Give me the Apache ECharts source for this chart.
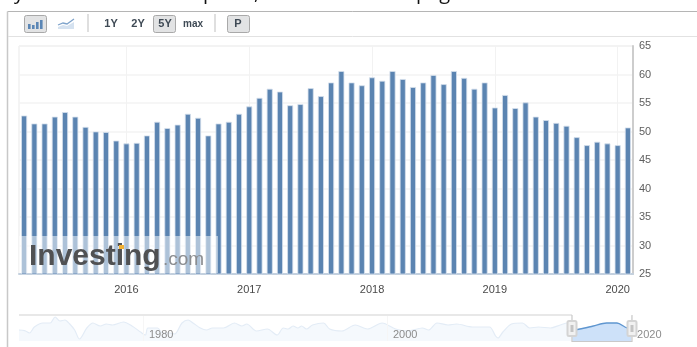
<!DOCTYPE html>
<html>
<head>
<meta charset="utf-8">
<style>html,body{margin:0;padding:0;background:#fff}#chart{width:697px;height:347px}</style>
<script src="https://cdn.jsdelivr.net/npm/echarts@6/dist/echarts.min.js"></script>
</head>
<body>
<div id="chart"></div>
<script>
// Monthly readings shown in the main bar panel
const months = [
  '2015-03','2015-04','2015-05','2015-06','2015-07','2015-08','2015-09','2015-10','2015-11','2015-12',
  '2016-01','2016-02','2016-03','2016-04','2016-05','2016-06','2016-07','2016-08','2016-09','2016-10','2016-11','2016-12',
  '2017-01','2017-02','2017-03','2017-04','2017-05','2017-06','2017-07','2017-08','2017-09','2017-10','2017-11','2017-12',
  '2018-01','2018-02','2018-03','2018-04','2018-05','2018-06','2018-07','2018-08','2018-09','2018-10','2018-11','2018-12',
  '2019-01','2019-02','2019-03','2019-04','2019-05','2019-06','2019-07','2019-08','2019-09','2019-10','2019-11','2019-12',
  '2020-01','2020-02'
];
const readings = [
  52.8,51.4,51.4,52.6,53.4,52.6,50.8,50.0,49.9,48.4,
  47.9,48.0,49.3,51.7,50.6,51.2,53.1,52.4,49.3,51.4,51.7,53.1,
  54.4,55.9,57.5,57.0,54.6,54.8,57.6,56.2,58.6,60.6,58.6,58.1,
  59.5,58.9,60.6,59.2,57.8,58.6,59.9,58.3,60.6,59.4,57.5,58.6,
  54.2,56.4,54.1,55.1,52.6,52.0,51.5,51.0,49.0,47.6,48.2,47.9,
  47.6,50.7
];

// Long-range history behind the navigator strip
const navYears = [
  1969.84,1970.3,1970.7,1971.1,1971.8,1972.4,1972.8,1973.2,1973.6,1974.0,1974.4,1974.8,
  1975.4,1975.9,1976.5,1977.0,1977.5,1978.4,1979.1,1979.8,1980.2,1980.4,1981.2,1981.6,
  1982.2,1982.6,1983.2,1983.7,1984.1,1984.7,1985.2,1985.7,1986.6,1987.5,1988.1,1988.5,
  1989.3,1990.2,1991.0,1991.5,1991.9,1992.3,1992.7,1993.0,1993.4,1993.9,1994.8,1995.3,
  1996.3,1997.4,1998.4,1999.6,2000.7,2001.7,2002.9,2003.4,2004.1,2005.0,2005.7,2007.0,
  2008.4,2008.9,2009.1,2009.5,2010.2,2011.1,2011.7,2012.4,2013.4,2014.2,2014.8,2015.2,
  2015.5,2015.8,2016.9,2018.0,2018.85,2019.7,2020.08
];
const navValues = [
  47.1,45.8,41.4,52.9,60.6,60.6,72.1,64.4,66.3,58.6,47.1,29.8,
  51.0,60.6,54.8,58.6,56.7,62.5,54.8,43.3,37.5,51.0,51.0,41.4,
  41.4,39.4,60.6,66.3,60.6,51.0,47.1,51.0,51.0,60.6,54.8,58.6,
  45.2,49.0,37.5,51.0,49.0,54.8,51.0,54.8,49.0,56.7,60.6,49.0,
  45.2,56.7,49.0,60.6,49.0,45.2,51.0,47.1,60.6,56.7,58.6,52.9,
  52.9,35.6,31.8,43.3,58.6,60.6,51.0,52.9,51.0,56.7,60.6,52.8,
  48.0,49.0,54.8,60.6,60.6,51.0,50.7
];
const navTicks = [1980, 2000, 2020];
const rangeStart = 2015.2;

const isYearStart = idx => months[idx].endsWith('-01');
const pairs = navYears.map((y, i) => [y, navValues[i]]);
const faded = pairs.filter(p => p[0] <= rangeStart);
const selected = pairs.filter(p => p[0] >= rangeStart);

const FONT = '"Liberation Sans", Arial, sans-serif';
const BTN = '#e2e3e4';

// Toolbar button helper
const button = (x, w, fill) => ({
  type: 'rect', z: 60,
  shape: { x: x + 0.5, y: 15.5, width: w, height: 17, r: 2 },
  style: { fill: fill, stroke: '#a9a9a9', lineWidth: 1 }
});
const label = (x, text, size) => ({
  type: 'text', z: 61, x: x, y: 24,
  style: { text: text, font: 'bold ' + (size || 11) + 'px ' + FONT, fill: '#3f4a55', align: 'center', verticalAlign: 'middle' }
});
const bar = (x, y, h) => ({ type: 'rect', z: 61, shape: { x: x, y: y, width: 2.6, height: h }, style: { fill: '#5b86b5' } });
const handle = x => ({
  type: 'group', z: 70, children: [
    { type: 'rect', z: 70, shape: { x: x, y: 321, width: 9, height: 15, r: 1.5 }, style: { fill: '#f1f1f1', stroke: '#d4d4d4', lineWidth: 2 } },
    { type: 'rect', z: 71, shape: { x: x + 3, y: 325, width: 3, height: 7 }, style: { fill: '#c4c4c4' } }
  ]
});
// Heading line cut off by the page's top edge: only descenders remain on screen
const clipped = (x, text) => ({
  type: 'text', z: 61, x: x, y: 3.5,
  style: { text: text, font: '20px "Open Sans", sans-serif', fill: '#111', align: 'left', verticalAlign: 'bottom' }
});

const chart = echarts.init(document.getElementById('chart'), null, { renderer: 'canvas' });
chart.setOption({
  animation: false,
  backgroundColor: '#fff',
  grid: [
    { left: 19, top: 46, width: 614, height: 228, show: true, borderColor: '#e9e9e9', borderWidth: 1, backgroundColor: 'transparent' },
    { left: 19, top: 316, width: 613, height: 25 }
  ],
  xAxis: [
    {
      type: 'category', gridIndex: 0, data: months, boundaryGap: true,
      axisLine: { show: true, lineStyle: { color: '#c3d0de', width: 2 } },
      axisTick: { show: false },
      axisLabel: {
        interval: isYearStart, margin: 10, color: '#4a4a4a', fontFamily: FONT, fontSize: 11,
        formatter: v => v.slice(0, 4)
      },
      splitLine: { show: true, interval: isYearStart, alignWithLabel: true, lineStyle: { color: '#f2f2f2', width: 1 } }
    },
    {
      type: 'value', gridIndex: 1, min: 1969.84, max: 2020.08, z: 20,
      axisLine: { show: false },
      axisTick: { show: false, customValues: navTicks },
      axisLabel: {
        customValues: navTicks, inside: true, margin: 1, align: 'left', padding: [0, 0, 0, 6],
        color: '#8c8c8c', fontFamily: FONT, fontSize: 11, showMinLabel: true, showMaxLabel: true,
        formatter: v => String(v)
      },
      splitLine: { show: true, customValues: navTicks, lineStyle: { color: '#f6f6f6', width: 1 } }
    }
  ],
  yAxis: [
    {
      type: 'value', gridIndex: 0, position: 'right', min: 25, max: 65, interval: 5,
      axisLine: { show: true, lineStyle: { color: '#cdcdcd', width: 2 } },
      axisTick: { show: false },
      axisLabel: { margin: 6, color: '#5e5e5e', fontFamily: FONT, fontSize: 11 },
      splitLine: { show: true, lineStyle: { color: '#f3f3f3', width: 1.5 } }
    },
    {
      type: 'value', gridIndex: 1, min: 26, max: 74,
      axisLine: { show: false }, axisTick: { show: false }, axisLabel: { show: false }, splitLine: { show: false }
    }
  ],
  series: [
    {
      type: 'bar', xAxisIndex: 0, yAxisIndex: 0, data: readings, barWidth: 6,
      itemStyle: { color: '#5b84b1', borderColor: '#d6e0ec', borderWidth: 0.8 }
    },
    {
      type: 'line', xAxisIndex: 1, yAxisIndex: 1, data: faded, symbol: 'none', smooth: 0.3,
      lineStyle: { color: '#e3ecf6', width: 1.2 }, areaStyle: { color: '#f5f9fd', opacity: 1, origin: 'start' }
    },
    {
      type: 'line', xAxisIndex: 1, yAxisIndex: 1, data: selected, symbol: 'none', smooth: 0.3,
      lineStyle: { color: '#5f96d0', width: 1.4 }, areaStyle: { color: '#cde1f9', opacity: 1, origin: 'start' }
    }
  ],
  graphic: { elements: [
    clipped(14, 'y'), clipped(203, 'p'), clipped(254, ','), clipped(416, 'page'),
    // Outer frame and toolbar rule
    { type: 'line', z: 60, shape: { x1: 7.5, y1: 11.5, x2: 697, y2: 11.5 }, style: { stroke: '#b5b5b5', lineWidth: 1 } },
    { type: 'line', z: 60, shape: { x1: 7.5, y1: 11.5, x2: 7.5, y2: 347 }, style: { stroke: '#c8c8c8', lineWidth: 1.5 } },
    { type: 'line', z: 60, shape: { x1: 8, y1: 36.5, x2: 697, y2: 36.5 }, style: { stroke: '#e2e2e2', lineWidth: 1 } },
    // Chart-type toggle
    button(24, 22, BTN),
    bar(28, 24, 5), bar(32, 25, 4), bar(36, 22, 7), bar(40, 20, 9),
    { type: 'polyline', z: 61, shape: { points: [[58, 25], [63, 23], [67, 24], [74, 19]] }, style: { stroke: '#7ea3cb', lineWidth: 1.3, fill: null } },
    { type: 'polygon', z: 60, shape: { points: [[58, 27], [63, 25], [67, 26], [74, 22], [74, 29], [58, 29]] }, style: { fill: '#d5e2f0' } },
    { type: 'line', z: 60, shape: { x1: 88, y1: 14, x2: 88, y2: 32 }, style: { stroke: '#d4d4d4', lineWidth: 1.5 } },
    // Range buttons
    label(111, '1Y'), label(138, '2Y'),
    button(153, 22, BTN), label(165, '5Y'),
    label(193, 'max', 10),
    { type: 'line', z: 60, shape: { x1: 215, y1: 14, x2: 215, y2: 32 }, style: { stroke: '#d4d4d4', lineWidth: 1.5 } },
    button(227, 22, BTN), label(238, 'P'),
    // Watermark laid over the lower-left bars
    { type: 'rect', z: 50, shape: { x: 19, y: 236, width: 199, height: 37 }, style: { fill: 'rgba(255,255,255,0.5)' } },
    { type: 'text', z: 51, x: 29, y: 257, style: { text: 'Investing', font: 'bold 30px ' + FONT, fill: '#505153', align: 'left', verticalAlign: 'middle' } },
    { type: 'text', z: 51, x: 163, y: 260, style: { text: '.com', font: '19px ' + FONT, fill: '#8b8d90', align: 'left', verticalAlign: 'middle' } },
    { type: 'rect', z: 52, shape: { x: 119, y: 245, width: 5, height: 4 }, style: { fill: '#f2b134' } },
    // Navigator frame and drag handles
    { type: 'line', z: 60, shape: { x1: 19, y1: 315, x2: 572, y2: 315 }, style: { stroke: '#d2d2d2', lineWidth: 1.2 } },
    { type: 'line', z: 60, shape: { x1: 572, y1: 315, x2: 572, y2: 342 }, style: { stroke: '#c9c9c9', lineWidth: 1.2 } },
    { type: 'line', z: 60, shape: { x1: 572, y1: 341.5, x2: 632, y2: 341.5 }, style: { stroke: '#c9c9c9', lineWidth: 1 } },
    { type: 'line', z: 60, shape: { x1: 632, y1: 315, x2: 632, y2: 342 }, style: { stroke: '#c9c9c9', lineWidth: 1.2 } },
    handle(567.5), handle(627.5)
  ] }
});
</script>
</body>
</html>
